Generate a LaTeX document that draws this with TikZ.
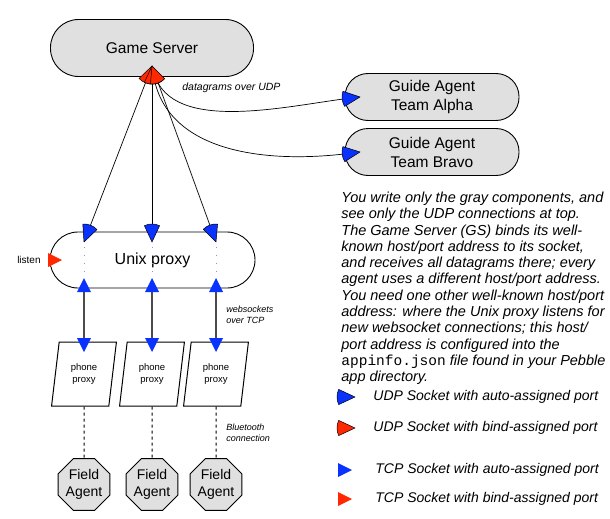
\documentclass[tikz,border=0pt]{standalone}
\usepackage{fontspec}
\setmainfont{Liberation Sans}
\setmonofont{Liberation Mono}
\usetikzlibrary{shapes.geometric}

\definecolor{compgray}{RGB}{224,224,224}
\definecolor{autoblue}{RGB}{10,50,255}
\definecolor{bindred}{RGB}{255,40,0}

\tikzset{
  pics/udp/.style={code={\filldraw[fill=#1, line width=0.5pt, line join=round] (0,0) -- (155:18) arc[start angle=155, end angle=205, radius=18] -- cycle;}},
  pics/udprev/.style={code={\filldraw[fill=#1, line width=0.5pt, line join=round] (0,0) -- (-25:18) arc[start angle=-25, end angle=25, radius=18] -- cycle;}},
  pics/tcp/.style={code={\fill[#1] (0,0) -- (-14,7) -- (-14,-7) -- cycle;}},
  pics/tcprev/.style={code={\fill[#1] (0,0) -- (14,7) -- (14,-7) -- cycle;}},
}

\begin{document}
\begin{tikzpicture}[x=1pt, y=1pt, line width=0.8pt]
  \tikzstyle{every node}=[inner sep=0pt]
  \tikzstyle{stadium}=[draw, line width=0.9pt]
  \tikzstyle{phone}=[draw=black, line width=1pt, fill=white, trapezium, trapezium left angle=79, trapezium right angle=101, trapezium stretches=true, minimum width=65pt, minimum height=64pt, align=center, font=\fontsize{9.5}{12}\selectfont]
  \tikzstyle{agent}=[draw, line width=0.9pt, fill=compgray, regular polygon, regular polygon sides=8, minimum size=54pt, align=center, font=\fontsize{14}{16.5}\selectfont]
  \tikzstyle{sock}=[sloped, allow upside down]
  \tikzstyle{smalltext}=[font=\itshape\fontsize{9}{11}\selectfont, align=left]
  \tikzstyle{legend}=[font=\itshape\fontsize{14}{16}\selectfont]
  \useasboundingbox (0,0) rectangle (610,-519);

  \node[stadium, fill=compgray, minimum width=203pt, minimum height=57pt, rounded corners=28pt, font=\fontsize{15.5}{19}\selectfont] (gs) at (152,-48) {Game Server};
  \coordinate (gsport) at (152,-66);

  \node[stadium, fill=compgray, minimum width=174pt, minimum height=47pt, rounded corners=23pt, align=center, font=\fontsize{15.5}{19}\selectfont] (alpha) at (432,-97) {Guide Agent\\Team Alpha};
  \node[stadium, fill=compgray, minimum width=174pt, minimum height=47pt, rounded corners=23pt, align=center, font=\fontsize{15.5}{19}\selectfont] (bravo) at (432,-152) {Guide Agent\\Team Bravo};
  \coordinate (alphaport) at (360,-97);
  \coordinate (bravoport) at (360,-152);

  \node[stadium, fill=white, minimum width=205pt, minimum height=56pt, rounded corners=28pt, font=\fontsize{16}{19}\selectfont] (unix) at (152.5,-260) {Unix proxy};
  \coordinate (listenport) at (62,-260);
  \pic at (listenport) {tcp=bindred};
    \node[anchor=east, font=\fontsize{10}{12}\selectfont] (listen) at (41,-260) {listen};

  % udp to the guides
  \draw[line width=0.7pt, shorten <=8pt, shorten >=8pt] (gsport) .. controls (172,-135) and (290,-105) .. (alphaport) pic[pos=0, sock]{udprev=bindred} pic[pos=1, sock]{udp=autoblue};
  \draw[line width=0.7pt, shorten <=8pt, shorten >=8pt] (gsport) .. controls (165,-150) and (260,-165) .. (bravoport) pic[pos=0, sock]{udprev=bindred} pic[pos=1, sock]{udp=autoblue};
    \node[smalltext, anchor=west, font=\itshape\fontsize{10.5}{12}\selectfont] (udplabel) at (182,-88) {datagrams over UDP};

  \foreach \i/\x in {1/84, 2/152, 3/216} {
    \coordinate (up\i) at (\x,-242);
    \coordinate (dn\i) at (\x,-278);
    \coordinate (ph\i) at (\x,-352);
    \node[phone] (phone\i) at (\x,-374) {phone\\proxy};
    \node[agent] (field\i) at (\x,-484.5) {Field\\Agent};

    \draw[line width=0.7pt, shorten <=8pt, shorten >=8pt] (gsport) -- (up\i) pic[pos=0, sock]{udprev=bindred} pic[pos=1, sock]{udp=autoblue};
    \draw[gray!80, line width=0.6pt, dash pattern=on 1pt off 7pt, shorten <=5pt, shorten >=4pt] (up\i) -- (dn\i);
    \draw[black!70, line width=1.2pt, shorten <=10pt, shorten >=10pt] (dn\i) -- (ph\i) pic[pos=0, sock]{tcprev=autoblue} pic[pos=1, sock]{tcp=autoblue};
    \draw[black, line width=1pt, dash pattern=on 3pt off 3pt] (phone\i.south) -- (field\i.north);
  }

  \node[smalltext, anchor=west] (wslabel) at (226,-315) {websockets\\over TCP};
  \node[smalltext, anchor=west] (btlabel) at (226,-433) {Bluetooth\\connection};

  \node[anchor=north west, align=left, font=\itshape\fontsize{14.5}{16.3}\selectfont] (note) at (341,-191.5) {You write only the gray components, and\\
    see only the UDP connections at top.\\
    The Game Server (GS) binds its well-\\
    known host/port address to its socket,\\
    and receives all datagrams there; every\\
    agent uses a different host/port address.\\
    You need one other well-known host/port\\
    address: where the Unix proxy listens for\\
    new websocket connections; this host/\\
    port address is configured into the\\
    \texttt{\upshape appinfo.json} file found in your Pebble\\
    app directory.};

  % legend
  \pic at (355,-397) {udp=autoblue};
    \node[legend, anchor=west] (udpauto) at (373,-397) {UDP Socket with auto-assigned port};
  \pic at (355,-428) {udp=bindred};
    \node[legend, anchor=west] (udpbind) at (373,-428) {UDP Socket with bind-assigned port};
  \pic at (352,-470) {tcp=autoblue};
    \node[legend, anchor=west] (tcpauto) at (375,-470) {TCP Socket with auto-assigned port};
  \pic at (352,-499) {tcp=bindred};
    \node[legend, anchor=west] (tcpbind) at (375,-499) {TCP Socket with bind-assigned port};
\end{tikzpicture}
\end{document}
